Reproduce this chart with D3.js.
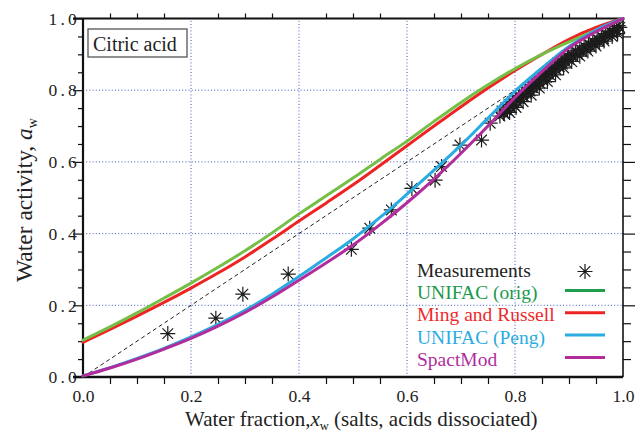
<!DOCTYPE html>
<html>
<head>
<meta charset="utf-8">
<script src="https://cdn.jsdelivr.net/npm/d3@7/dist/d3.min.js"></script>
<style>
  html, body { margin: 0; padding: 0; background: #fff; }
  svg { display: block; }
  text { font-family: "Liberation Serif", "DejaVu Serif", "Times New Roman", serif; }
</style>
</head>
<body>
<svg id="chart" width="638" height="432"></svg>
<script>
// Water activity of aqueous citric acid vs. water fraction

const waterFrac = [0, 0.05, 0.1, 0.15, 0.2, 0.25, 0.3, 0.35, 0.4, 0.45, 0.5,
                   0.55, 0.6, 0.65, 0.7, 0.75, 0.8, 0.85, 0.9, 0.95, 1.0];

const unifacOrig  = [0.103, 0.140, 0.179, 0.220, 0.262, 0.306, 0.352, 0.402, 0.455, 0.505, 0.555,
                     0.607, 0.658, 0.713, 0.766, 0.815, 0.860, 0.900, 0.935, 0.967, 1.0];
const mingRussell = [0.097, 0.133, 0.170, 0.208, 0.248, 0.290, 0.335, 0.384, 0.435, 0.485, 0.536,
                     0.590, 0.645, 0.700, 0.754, 0.806, 0.855, 0.900, 0.942, 0.975, 1.0];
const unifacPeng  = [0.003, 0.026, 0.052, 0.080, 0.112, 0.147, 0.186, 0.231, 0.280, 0.332, 0.385,
                     0.445, 0.510, 0.577, 0.647, 0.722, 0.797, 0.862, 0.922, 0.968, 1.0];
const spactMod    = [0.003, 0.025, 0.050, 0.078, 0.108, 0.142, 0.180, 0.223, 0.270, 0.318, 0.368,
                     0.425, 0.486, 0.552, 0.624, 0.700, 0.780, 0.852, 0.918, 0.963, 1.0];

// Ideal solution reference (a_w = x_w)
const idealX = [0, 1];
const idealY = [0, 1];

// Measured water activities [x_w, a_w]
const measurements = [
  [0.157, 0.121], [0.246, 0.164], [0.296, 0.231], [0.380, 0.287], [0.497, 0.356],
  [0.531, 0.415], [0.571, 0.466], [0.609, 0.526], [0.652, 0.549], [0.664, 0.587],
  [0.698, 0.647], [0.738, 0.661], [0.754, 0.708], [0.780, 0.736],
  [0.772, 0.728], [0.776, 0.742], [0.779, 0.735], [0.783, 0.751], [0.786, 0.744],
  [0.789, 0.760], [0.792, 0.752], [0.795, 0.768], [0.798, 0.759], [0.801, 0.776],
  [0.804, 0.768], [0.807, 0.785], [0.810, 0.776], [0.813, 0.792], [0.816, 0.783],
  [0.819, 0.800], [0.822, 0.791], [0.825, 0.808], [0.828, 0.798], [0.831, 0.815],
  [0.834, 0.806], [0.837, 0.822], [0.840, 0.813], [0.843, 0.830], [0.846, 0.820],
  [0.849, 0.838], [0.852, 0.828], [0.855, 0.846], [0.858, 0.836], [0.861, 0.853],
  [0.864, 0.843], [0.867, 0.861], [0.870, 0.851], [0.873, 0.868], [0.876, 0.858],
  [0.879, 0.876], [0.882, 0.866], [0.885, 0.882], [0.888, 0.873], [0.891, 0.889],
  [0.894, 0.879], [0.897, 0.896], [0.900, 0.886], [0.904, 0.902], [0.908, 0.893],
  [0.912, 0.910], [0.916, 0.900], [0.920, 0.917], [0.924, 0.907], [0.928, 0.924],
  [0.932, 0.914], [0.936, 0.930], [0.940, 0.921], [0.944, 0.937], [0.948, 0.928],
  [0.952, 0.944], [0.956, 0.935], [0.960, 0.951], [0.964, 0.943], [0.968, 0.958],
  [0.972, 0.951], [0.976, 0.965], [0.980, 0.959], [0.984, 0.972], [0.988, 0.967],
  [0.991, 0.980], [0.994, 0.975],
  [0.790, 0.738], [0.802, 0.752], [0.815, 0.768], [0.830, 0.786], [0.845, 0.806],
  [0.860, 0.824], [0.875, 0.843], [0.890, 0.862], [0.905, 0.880], [0.920, 0.895],
  [0.935, 0.909], [0.950, 0.923], [0.965, 0.937], [0.980, 0.950], [0.990, 0.958]
];

const majorTicks = [0, 0.2, 0.4, 0.6, 0.8, 1.0];
const minorTicks = [0.05, 0.1, 0.15, 0.25, 0.3, 0.35, 0.45, 0.5, 0.55, 0.65, 0.7, 0.75, 0.85, 0.9, 0.95];
const gridTicks  = [0.2, 0.4, 0.6, 0.8];

const seriesNames  = ["UNIFAC (orig)", "Ming and Russell", "UNIFAC (Peng)", "SpactMod"];
const lineColors   = ["#74bf45", "#ee2424", "#2aace2", "#b22c9c"];
const legendLine   = ["#1f9e4c", "#ee2424", "#2aace2", "#b22c9c"];
const legendText   = ["#1a9a4c", "#ee2a2a", "#2aace2", "#b22c9c"];

const svg = d3.select("#chart");
const x = d3.scaleLinear().domain([0, 1]).range([83, 623]);
const y = d3.scaleLinear().domain([0, 1]).range([377, 18.5]);

// dotted grid
const grid = svg.append("g").attr("stroke", "#4257c0").attr("stroke-width", 1)
  .attr("stroke-dasharray", "1,2.2");
grid.selectAll(".gx").data(gridTicks).join("line")
  .attr("x1", d => x(d)).attr("x2", d => x(d)).attr("y1", y(0)).attr("y2", y(1));
grid.selectAll(".gy").data(gridTicks).join("line")
  .attr("y1", d => y(d)).attr("y2", d => y(d)).attr("x1", x(0)).attr("x2", x(1));

// axes
function styleAxis(g) {
  g.select(".domain").remove();
  g.selectAll(".tick line").attr("stroke", "#111").attr("stroke-width", 1.2);
}
svg.append("g").attr("transform", `translate(${x(0)},0)`)
  .call(d3.axisLeft(y).tickValues(minorTicks).tickSize(5).tickFormat(""))
  .call(styleAxis);
const yMajor = svg.append("g").attr("transform", `translate(${x(0)},0)`)
  .call(d3.axisLeft(y).tickValues(majorTicks).tickSize(10).tickPadding(0).tickFormat(d3.format(".1f")))
  .call(styleAxis);
yMajor.selectAll(".tick text")
  .attr("x", -3).attr("dy", "0.33em")
  .attr("font-size", 17.5).attr("fill", "#222")
  .attr("letter-spacing", "3.2px");

svg.append("g").attr("transform", `translate(${x(1)},0)`)
  .call(d3.axisRight(y).tickValues(minorTicks).tickSize(8).tickFormat(""))
  .call(styleAxis);
svg.append("g").attr("transform", `translate(${x(1)},0)`)
  .call(d3.axisRight(y).tickValues(majorTicks.slice(1, 5)).tickSize(12).tickFormat(""))
  .call(styleAxis);

svg.append("g").attr("transform", `translate(0,${y(0)})`)
  .call(d3.axisBottom(x).tickValues(minorTicks).tickSize(7).tickFormat(""))
  .call(styleAxis);
const xMajor = svg.append("g").attr("transform", `translate(0,${y(0)})`)
  .call(d3.axisBottom(x).tickValues(majorTicks).tickSize(0).tickPadding(0).tickFormat(d3.format(".1f")))
  .call(styleAxis);
xMajor.selectAll(".tick text")
  .attr("y", 25).attr("dy", 0)
  .attr("font-size", 17.5).attr("fill", "#222");

svg.append("g").attr("transform", `translate(0,${y(1)})`)
  .call(d3.axisTop(x).tickValues(minorTicks).tickSize(5).tickFormat(""))
  .call(styleAxis);

// frame
const frame = svg.append("g").attr("stroke", "#111").attr("fill", "none");
frame.append("line").attr("x1", x(0) - 10).attr("x2", x(1)).attr("y1", y(1)).attr("y2", y(1)).attr("stroke-width", 2.2);
frame.append("line").attr("x1", x(0) - 10).attr("x2", x(1)).attr("y1", y(0)).attr("y2", y(0)).attr("stroke-width", 2.4);
frame.append("line").attr("x1", x(0)).attr("x2", x(0)).attr("y1", y(1)).attr("y2", y(0) + 1).attr("stroke-width", 2.2);
frame.append("line").attr("x1", x(1)).attr("x2", x(1)).attr("y1", y(1)).attr("y2", y(0)).attr("stroke-width", 1.6);

// asterisk marker
function star(r) {
  const a = r * Math.SQRT1_2;
  return `M${-r},0L${r},0M0,${-r}L0,${r}M${-a},${-a}L${a},${a}M${-a},${a}L${a},${-a}`;
}

const plot = svg.append("g");

// measurements
plot.selectAll(".meas").data(measurements).join("path")
  .attr("d", star(7.5))
  .attr("transform", d => `translate(${x(d[0])},${y(d[1])})`)
  .attr("stroke", "#1c1c1c").attr("stroke-width", 1.2).attr("fill", "none");

// ideal diagonal
plot.append("path")
  .attr("d", d3.line().x((d, i) => x(d)).y((d, i) => y(idealY[i]))(idealX))
  .attr("stroke", "#222").attr("stroke-width", 1).attr("stroke-dasharray", "4,3").attr("fill", "none");

// model curves
const modelSeries = [mingRussell, unifacOrig, unifacPeng, spactMod];
const modelColor  = [lineColors[1], lineColors[0], lineColors[2], lineColors[3]];
const curveLine = d3.line().x((d, i) => x(waterFrac[i])).y(d => y(d)).curve(d3.curveMonotoneX);
modelSeries.forEach((s, k) => {
  plot.append("path").attr("d", curveLine(s))
    .attr("stroke", modelColor[k]).attr("stroke-width", 3).attr("fill", "none")
    .attr("stroke-linecap", "round");
});

// title box
svg.append("rect").attr("x", 88).attr("y", 29).attr("width", 99).attr("height", 28)
  .attr("fill", "#fff").attr("stroke", "#555").attr("stroke-width", 1.3);
svg.append("text").attr("x", 93).attr("y", 51).attr("font-size", 20).attr("fill", "#222")
  .text("Citric acid");

// legend
const lg = svg.append("g");
lg.append("text").attr("x", 417).attr("y", 277).attr("font-size", 19.5).attr("fill", "#222").text("Measurements");
lg.append("path").attr("d", star(7.5)).attr("transform", "translate(585,271.5)")
  .attr("stroke", "#1c1c1c").attr("stroke-width", 1.2).attr("fill", "none");
seriesNames.forEach((name, i) => {
  const yy = 299 + i * 22.3;
  lg.append("text").attr("x", 417).attr("y", yy).attr("font-size", 19.5)
    .attr("fill", legendText[i]).text(name);
  lg.append("line").attr("x1", 565).attr("x2", 605).attr("y1", yy - 8.5).attr("y2", yy - 8.5)
    .attr("stroke", legendLine[i]).attr("stroke-width", 3);
});

// axis titles
const xt = svg.append("text").attr("x", 185).attr("y", 426).attr("font-size", 21).attr("fill", "#222");
xt.append("tspan").text("Water fraction,");
xt.append("tspan").attr("font-style", "italic").text("x");
xt.append("tspan").attr("font-size", 12.5).attr("dy", 4).text("w");
xt.append("tspan").attr("dy", -4).text(" (salts, acids dissociated)");

const yt = svg.append("text").attr("transform", "translate(32,200) rotate(-90)")
  .attr("text-anchor", "middle").attr("font-size", 23.5).attr("fill", "#222");
yt.append("tspan").text("Water activity, ");
yt.append("tspan").attr("font-style", "italic").text("a");
yt.append("tspan").attr("font-size", 14).attr("dy", 5).text("w");
</script>
</body>
</html>
